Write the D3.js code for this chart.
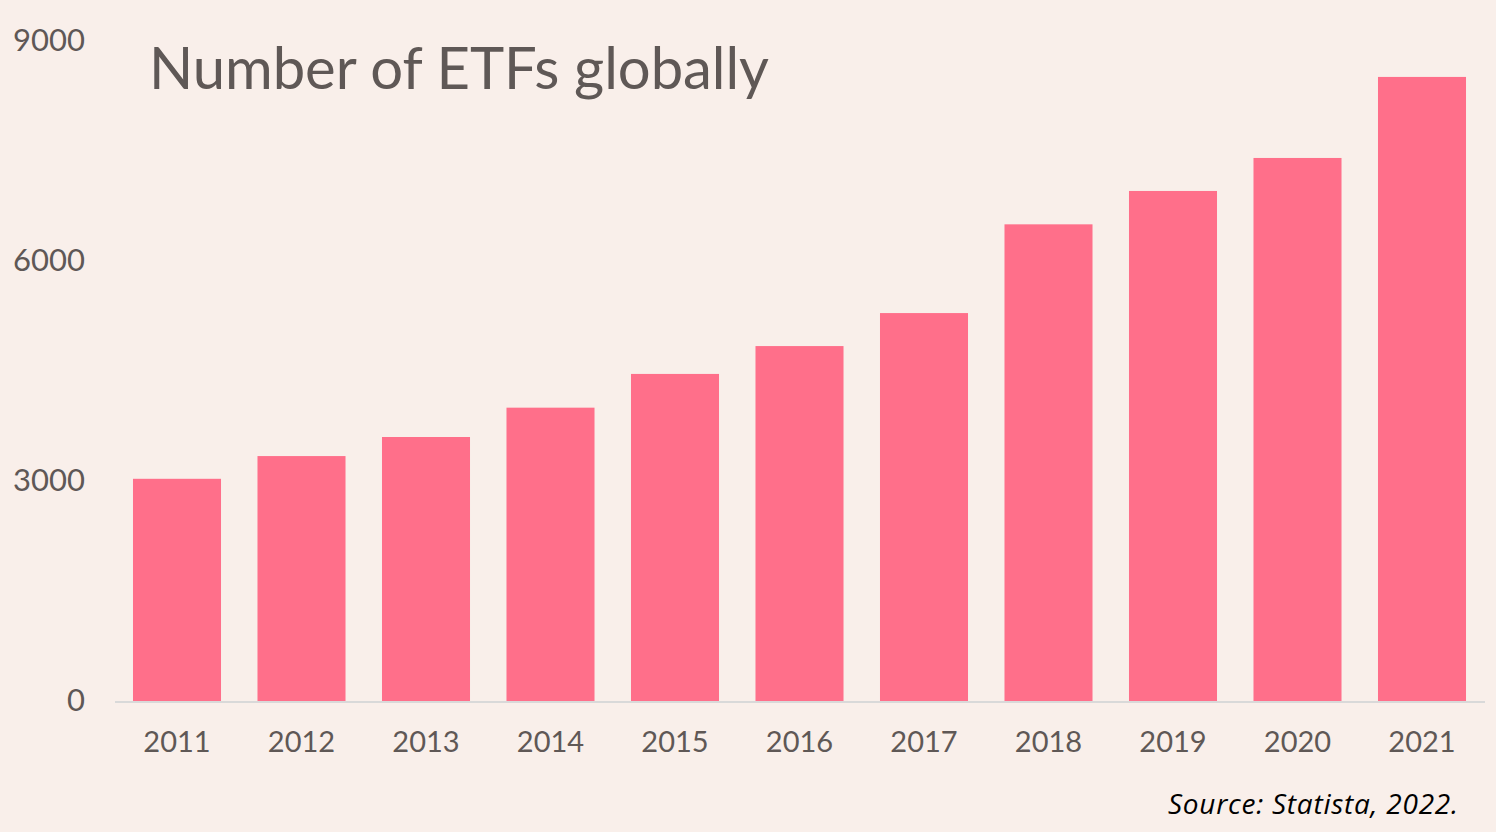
<!doctype html>
<html lang="en">
  <head>
    <meta charset="UTF-8" />
    <title>Number of ETFs globally</title>
    <style>
      html, body { margin: 0; padding: 0; background: #f9efea; }
      svg { display: block; }
      .tick text { fill: #5f5856; font-family: Lato, "Noto Sans", sans-serif; }
    </style>
  </head>
  <body>
    <div id="chart"></div>
    <script src="https://d3js.org/d3.v7.min.js"></script>
    <script>
      // values
      const years = ['2011', '2012', '2013', '2014', '2015', '2016', '2017', '2018', '2019', '2020', '2021'];
      const etfCount = [3030, 3340, 3600, 4000, 4460, 4840, 5290, 6500, 6955, 7405, 8510];
      const yTicks = [0, 3000, 6000, 9000];

      const width = 1496;
      const height = 832;

      const svg = d3.select('#chart').append('svg').attr('width', width).attr('height', height);

      svg.append('rect').attr('width', width).attr('height', height).attr('fill', '#f9efea');

      const x = d3.scaleBand().domain(years).range([114.75, 1484.25]).paddingInner(0.293).paddingOuter(0.1465);
      const y = d3.scaleLinear().domain([0, 9000]).range([701, 41]);

      // bars
      svg
        .selectAll('.bar')
        .data(years)
        .enter()
        .append('rect')
        .attr('class', 'bar')
        .attr('x', (d) => x(d))
        .attr('width', x.bandwidth())
        .attr('y', (d, i) => y(etfCount[i]))
        .attr('height', (d, i) => y(0) - y(etfCount[i]))
        .attr('fill', '#ff6f8a');

      // baseline
      svg
        .append('line')
        .attr('x1', 115)
        .attr('x2', 1485)
        .attr('y1', y(0) + 1)
        .attr('y2', y(0) + 1)
        .attr('stroke', '#d9d9d9')
        .attr('stroke-width', 2);

      // x axis labels
      const xAxis = svg
        .append('g')
        .attr('transform', `translate(0,${y(0)})`)
        .call(d3.axisBottom(x).tickSize(0).tickPadding(30));
      xAxis.select('.domain').remove();
      xAxis.selectAll('text').attr('font-size', 29);

      // y axis labels
      const yAxis = svg
        .append('g')
        .attr('transform', 'translate(85,0)')
        .call(d3.axisLeft(y).tickValues(yTicks).tickFormat(d3.format('d')).tickSize(0).tickPadding(0));
      yAxis.select('.domain').remove();
      yAxis.selectAll('text').attr('font-size', 31);

      // title
      svg
        .append('text')
        .attr('x', 149)
        .attr('y', 89)
        .attr('fill', '#5f5856')
        .attr('font-family', 'Lato, "Noto Sans", sans-serif')
        .attr('font-size', 58)
        .attr('textLength', 620)
        .text('Number of ETFs globally');

      // source note
      svg
        .append('text')
        .attr('x', 1458)
        .attr('y', 814)
        .attr('text-anchor', 'end')
        .attr('fill', '#000')
        .attr('font-family', '"Open Sans", sans-serif')
        .attr('font-style', 'italic')
        .attr('font-size', 28)
        .attr('textLength', 290)
        .text('Source: Statista, 2022.');
    </script>
  </body>
</html>
